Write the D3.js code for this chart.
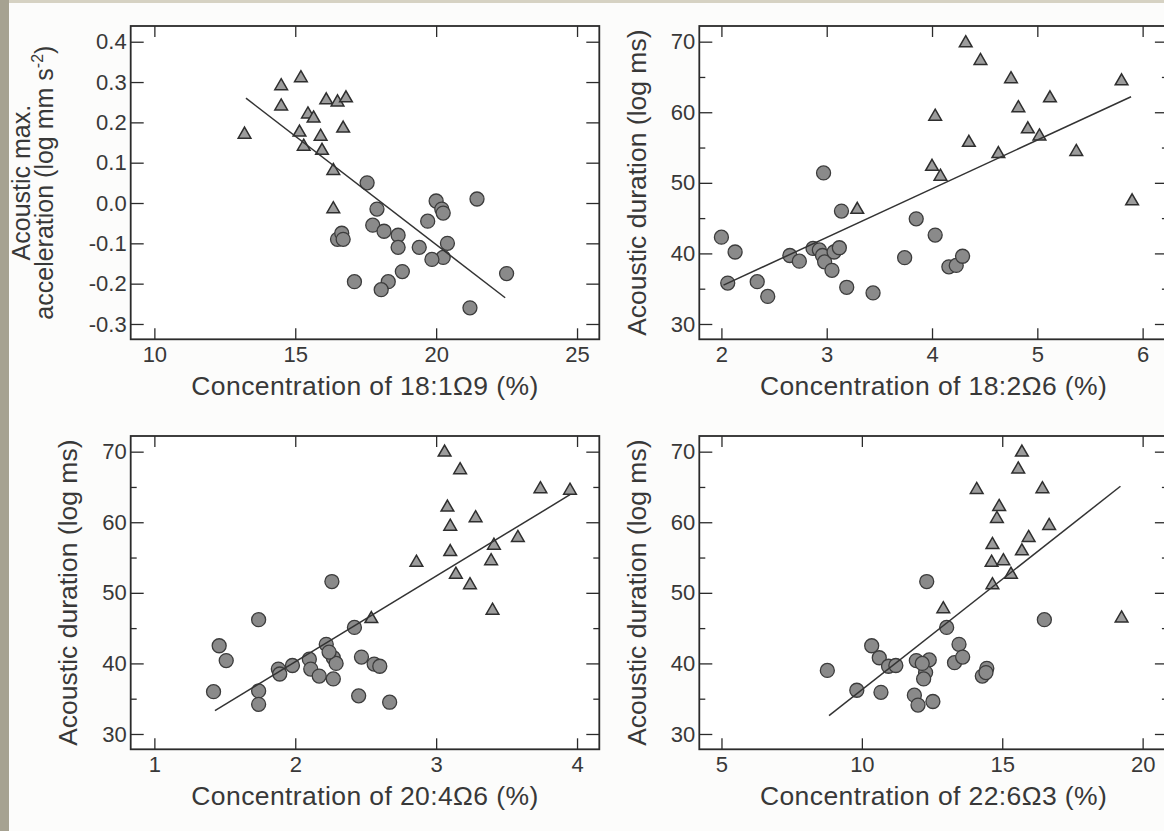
<!DOCTYPE html>
<html lang="en">
<head>
<meta charset="UTF-8">
<title>Fatty acid concentration vs acoustic traits</title>
<script src="https://d3js.org/d3.v7.min.js" charset="utf-8"></script>
<style>
    html, body { margin: 0; padding: 0; background: #fcfcfb; }
    svg { display: block; }
    text { font-family: "Liberation Sans", Arial, sans-serif; fill: #383838; }
</style>
</head>
<body>
<div id="chart"></div>
<script>
// ---- data: [concentration, acoustic value] ----
// 18:1 omega-9 vs acoustic max. acceleration
var oleicTri = [[13.2,0.17],[14.5,0.29],[14.5,0.24],[15.2,0.31],[15.15,0.175],[15.3,0.14],[15.45,0.22],[15.65,0.21],[15.9,0.165],[15.95,0.13],[16.1,0.255],[16.5,0.25],[16.8,0.26],[16.7,0.185],[16.35,0.08],[16.35,-0.015]];
var oleicCirc = [[17.55,0.05],[17.9,-0.015],[17.75,-0.055],[18.15,-0.07],[18.65,-0.08],[18.65,-0.11],[19.4,-0.11],[19.7,-0.045],[20.0,0.005],[20.2,-0.015],[20.25,-0.025],[20.4,-0.1],[20.25,-0.135],[19.85,-0.14],[21.45,0.01],[21.2,-0.26],[22.5,-0.175],[18.8,-0.17],[18.3,-0.195],[18.05,-0.215],[17.1,-0.195],[16.5,-0.09],[16.65,-0.075],[16.7,-0.09]];
var oleicFit = [[13.25,0.26],[22.45,-0.235]];

// 18:2 omega-6 vs acoustic duration
var linoleicTri = [[4.32,69.8],[4.46,67.3],[4.75,64.7],[5.8,64.4],[5.12,62.0],[4.82,60.6],[4.03,59.4],[4.91,57.6],[5.02,56.6],[4.35,55.7],[5.37,54.4],[4.63,54.1],[4.0,52.3],[4.08,50.9],[3.29,46.2],[5.9,47.4]];
var linoleicCirc = [[2.97,51.4],[3.14,46.0],[3.85,44.9],[4.03,42.6],[2.0,42.3],[2.13,40.2],[2.06,35.8],[2.34,36.0],[2.44,33.9],[2.65,39.7],[2.74,38.9],[2.87,40.7],[2.93,40.5],[2.96,39.7],[2.98,38.8],[3.05,37.6],[3.07,40.2],[3.12,40.8],[3.19,35.2],[3.44,34.4],[3.74,39.4],[4.16,38.1],[4.23,38.3],[4.29,39.6]];
var linoleicFit = [[2.02,35.5],[5.89,62.2]];

// 20:4 omega-6 vs acoustic duration
var araTri = [[3.06,69.9],[3.17,67.4],[3.74,64.7],[3.95,64.5],[3.08,62.1],[3.28,60.6],[3.10,59.4],[3.58,57.8],[3.41,56.7],[3.10,55.8],[2.86,54.3],[3.39,54.5],[3.14,52.6],[3.24,51.1],[2.54,46.3],[3.40,47.5]];
var araCirc = [[2.26,51.6],[1.74,46.2],[2.42,45.1],[2.22,42.7],[1.46,42.5],[1.51,40.4],[1.42,36.0],[1.74,36.1],[1.74,34.2],[1.88,39.2],[1.89,38.5],[1.98,39.7],[2.10,40.6],[2.11,39.2],[2.17,38.2],[2.27,40.8],[2.29,40.0],[2.27,37.8],[2.47,40.9],[2.56,39.9],[2.60,39.6],[2.45,35.4],[2.67,34.5],[2.24,41.6]];
var araFit = [[1.43,33.3],[3.95,63.9]];

// 22:6 omega-3 vs acoustic duration
var dhaTri = [[15.70,69.9],[15.57,67.5],[14.09,64.6],[16.43,64.7],[14.89,62.2],[14.81,60.5],[16.67,59.5],[15.94,57.8],[14.65,56.8],[15.70,55.9],[14.62,54.3],[15.04,54.5],[15.31,52.6],[14.65,51.1],[12.90,47.7],[19.25,46.4]];
var dhaCirc = [[12.31,51.6],[16.50,46.2],[13.02,45.1],[13.46,42.7],[10.35,42.5],[10.62,40.8],[10.95,39.6],[11.21,39.7],[8.77,39.0],[9.82,36.2],[10.68,35.9],[11.94,40.4],[12.4,40.5],[12.27,38.7],[12.2,37.8],[11.87,35.5],[12.0,34.1],[12.53,34.6],[13.3,40.1],[13.59,40.9],[14.29,38.2],[14.45,39.3],[14.42,38.7],[12.15,40.0]];
var dhaFit = [[8.83,32.6],[19.21,65.1]];

// ---- tick labels ----
var accelTicks = [-0.3,-0.2,-0.1,0.0,0.1,0.2,0.3,0.4];
var durTicks = [30,40,50,60,70];
var durMinor = [35,45,55,65];
var oleicTicks = [10,15,20,25];
var linoleicTicks = [2,3,4,5,6];
var araTicks = [1,2,3,4];
var dhaTicks = [5,10,15,20];

var xTitles = ['Concentration of 18:1\u03A99 (%)', 'Concentration of 18:2\u03A96 (%)',
               'Concentration of 20:4\u03A96 (%)', 'Concentration of 22:6\u03A93 (%)'];
var durTitle = 'Acoustic duration (log ms)';

// ---- layout ----
var svgWidth = 1164, svgHeight = 831;
var panelW = 468.6, panelH = 313.3;

var svg = d3.select('#chart').append('svg')
            .attr('width', svgWidth)
            .attr('height', svgHeight);

// scanned-page border on the left / top
svg.append('rect').attr('x', 0).attr('y', 0).attr('width', svgWidth).attr('height', 3).attr('fill', '#d6d2c3');
svg.append('rect').attr('x', 0).attr('y', 0).attr('width', 9).attr('height', svgHeight).attr('fill', '#a6a291');

var panels = [
    { left: 130.7, top: 26,  xDomain: [9.16, 25.79], yDomain: [-0.338, 0.439], xTicks: oleicTicks,
      yTicks: accelTicks, yMinor: [], tri: oleicTri, circ: oleicCirc, fit: oleicFit, xTitle: xTitles[0], accel: true },
    { left: 699.3, top: 26,  xDomain: [1.79, 6.24], yDomain: [27.83, 72.22], xTicks: linoleicTicks,
      yTicks: durTicks, yMinor: durMinor, tri: linoleicTri, circ: linoleicCirc, fit: linoleicFit, xTitle: xTitles[1] },
    { left: 130.7, top: 436, xDomain: [0.832, 4.158], yDomain: [27.83, 72.22], xTicks: araTicks,
      yTicks: durTicks, yMinor: durMinor, tri: araTri, circ: araCirc, fit: araFit, xTitle: xTitles[2] },
    { left: 699.3, top: 436, xDomain: [4.21, 20.9], yDomain: [27.83, 72.22], xTicks: dhaTicks,
      yTicks: durTicks, yMinor: durMinor, tri: dhaTri, circ: dhaCirc, fit: dhaFit, xTitle: xTitles[3] }
];

var ink = '#2b2b2b';

function styleAxis(sel) {
    sel.select('.domain').remove();
    sel.attr('color', ink).attr('font-size', null).attr('font-family', null);
    sel.selectAll('line').attr('stroke-width', 1.3);
    sel.selectAll('text').style('font-size', '22px');
}

panels.forEach(function(p) {
    var g = svg.append('g').attr('transform', 'translate(' + p.left + ',' + p.top + ')');

    var x = d3.scaleLinear().domain(p.xDomain).range([0, panelW]);
    var y = d3.scaleLinear().domain(p.yDomain).range([panelH, 0]);

    g.append('rect')
        .attr('width', panelW).attr('height', panelH)
        .attr('fill', '#ffffff');

    var yFmt = p.accel ? function(d) { return (Math.abs(d) < 1e-9 ? 0 : d).toFixed(1); } : d3.format('d');

    // ticks on all four sides, pointing inward
    g.append('g').attr('transform', 'translate(0,' + panelH + ')')
        .call(d3.axisBottom(x).tickValues(p.xTicks).tickSizeInner(-11).tickSizeOuter(0).tickPadding(7).tickFormat(d3.format('d')))
        .call(styleAxis);
    g.append('g')
        .call(d3.axisTop(x).tickValues(p.xTicks).tickSizeInner(-11).tickSizeOuter(0).tickFormat(''))
        .call(styleAxis);
    g.append('g')
        .call(d3.axisLeft(y).tickValues(p.yTicks).tickSizeInner(-13).tickSizeOuter(0).tickPadding(4).tickFormat(yFmt))
        .call(styleAxis);
    g.append('g').attr('transform', 'translate(' + panelW + ',0)')
        .call(d3.axisRight(y).tickValues(p.yTicks).tickSizeInner(-13).tickSizeOuter(0).tickFormat(''))
        .call(styleAxis);
    if (p.yMinor.length) {
        g.append('g')
            .call(d3.axisLeft(y).tickValues(p.yMinor).tickSizeInner(-6).tickSizeOuter(0).tickFormat(''))
            .call(styleAxis);
        g.append('g').attr('transform', 'translate(' + panelW + ',0)')
            .call(d3.axisRight(y).tickValues(p.yMinor).tickSizeInner(-6).tickSizeOuter(0).tickFormat(''))
            .call(styleAxis);
    }

    // markers
    g.selectAll('circle.pt')
        .data(p.circ)
        .enter()
        .append('circle')
        .attr('class', 'pt')
        .attr('cx', d => x(d[0]))
        .attr('cy', d => y(d[1]))
        .attr('r', 7)
        .attr('fill', '#8a8a8a')
        .attr('stroke', '#3c3c3c')
        .attr('stroke-width', 1.3);

    g.selectAll('path.tri')
        .data(p.tri)
        .enter()
        .append('path')
        .attr('class', 'tri')
        .attr('d', d3.symbol(d3.symbolTriangle, 70))
        .attr('transform', d => 'translate(' + x(d[0]) + ',' + y(d[1]) + ')')
        .attr('fill', '#9c9c9c')
        .attr('stroke', '#2e2e2e')
        .attr('stroke-width', 1.5);

    // regression line
    g.append('path')
        .datum(p.fit)
        .attr('d', d3.line().x(d => x(d[0])).y(d => y(d[1])))
        .attr('fill', 'none')
        .attr('stroke', '#333')
        .attr('stroke-width', 1.5);

    // frame
    g.append('rect')
        .attr('width', panelW).attr('height', panelH)
        .attr('fill', 'none')
        .attr('stroke', ink)
        .attr('stroke-width', 1.8);

    // x title
    g.append('text')
        .attr('x', panelW / 2)
        .attr('y', panelH + 56)
        .attr('text-anchor', 'middle')
        .style('font-size', '26.5px')
        .style('letter-spacing', '0.4px')
        .text(p.xTitle);

    // y title
    if (p.accel) {
        g.append('text')
            .attr('transform', 'translate(-109,' + (panelH / 2) + ') rotate(-90)')
            .attr('text-anchor', 'middle')
            .attr('dy', '0.35em')
            .style('font-size', '25px')
            .text('Acoustic max.');
        var t2 = g.append('text')
            .attr('transform', 'translate(-86,' + (panelH / 2) + ') rotate(-90)')
            .attr('text-anchor', 'middle')
            .attr('dy', '0.35em')
            .style('font-size', '25px');
        t2.append('tspan').text('acceleration (log mm s');
        t2.append('tspan').attr('dy', -10).style('font-size', '16px').text('-2');
        t2.append('tspan').attr('dy', 10).text(')');
    } else {
        g.append('text')
            .attr('transform', 'translate(-63,' + (panelH / 2) + ') rotate(-90)')
            .attr('text-anchor', 'middle')
            .attr('dy', '0.35em')
            .style('font-size', '26.5px')
            .text(durTitle);
    }
});
</script>
</body>
</html>
